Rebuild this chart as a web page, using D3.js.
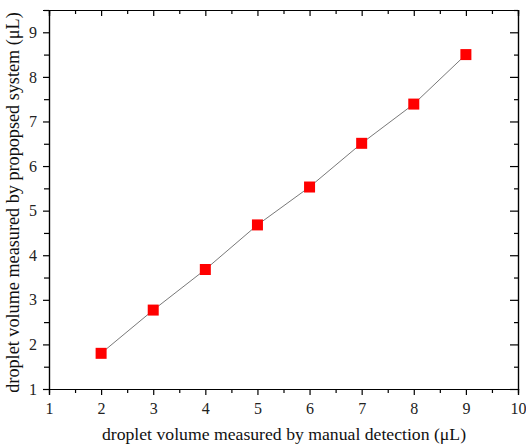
<!DOCTYPE html>
<html>
<head>
<meta charset="utf-8">
<script src="https://cdn.jsdelivr.net/npm/d3@7"></script>
<style>
  body { margin: 0; background: #fff; }
  svg text { font-family: "Liberation Serif", "Times New Roman", serif; }
</style>
</head>
<body>
<div id="chart"></div>
<script>
// data
var manual = [2, 3, 4, 5, 6, 7, 8, 9];
var proposed = [1.80, 2.77, 3.68, 4.68, 5.53, 6.51, 7.39, 8.50];
var xTicks = [1, 2, 3, 4, 5, 6, 7, 8, 9, 10];
var yTicks = [1, 2, 3, 4, 5, 6, 7, 8, 9];

var margin = {top: 10, right: 8, bottom: 57, left: 49},
    width = 526 - margin.left - margin.right,
    height = 446 - margin.top - margin.bottom;

var svg = d3.select("#chart")
  .append("svg")
    .attr("width", 526)
    .attr("height", 446)
  .append("g")
    .attr("transform", "translate(" + margin.left + "," + margin.top + ")");

var x = d3.scaleLinear().domain([1, 10]).range([0, width]);
var y = d3.scaleLinear().domain([1, 9.5]).range([height, 0]);

var minorX = d3.range(1.5, 10, 1);
var minorY = d3.range(1.5, 9.6, 1);

function styleAxis(g) {
  g.attr("font-family", null);
  g.select(".domain").attr("stroke", "#000").attr("stroke-width", 1.2);
  g.selectAll(".tick line").attr("stroke", "#000").attr("stroke-width", 1.2);
  g.selectAll(".tick text")
    .style("font-family", "'Liberation Serif', 'Times New Roman', serif")
    .style("font-size", "16px")
    .attr("fill", "#222");
}

// bottom axis, ticks outward
svg.append("g")
  .attr("transform", "translate(0," + height + ")")
  .call(d3.axisBottom(x).tickValues(xTicks).tickSize(6).tickPadding(8).tickFormat(d3.format("d")))
  .call(styleAxis);
svg.append("g")
  .attr("transform", "translate(0," + height + ")")
  .call(d3.axisBottom(x).tickValues(minorX).tickSize(4).tickFormat(""))
  .call(styleAxis);

// left axis, ticks outward
svg.append("g")
  .call(d3.axisLeft(y).tickValues(yTicks).tickSize(6).tickPadding(6).tickFormat(d3.format("d")))
  .call(styleAxis);
svg.append("g")
  .call(d3.axisLeft(y).tickValues(minorY).tickSize(5).tickFormat(""))
  .call(styleAxis);

// top axis, ticks inward
svg.append("g")
  .call(d3.axisTop(x).tickValues(xTicks).tickSize(-6).tickFormat(""))
  .call(styleAxis);
svg.append("g")
  .call(d3.axisTop(x).tickValues(minorX).tickSize(-4).tickFormat(""))
  .call(styleAxis);

// right axis, ticks inward
svg.append("g")
  .attr("transform", "translate(" + width + ",0)")
  .call(d3.axisRight(y).tickValues(yTicks).tickSize(-8).tickFormat(""))
  .call(styleAxis);
svg.append("g")
  .attr("transform", "translate(" + width + ",0)")
  .call(d3.axisRight(y).tickValues(minorY).tickSize(-4).tickFormat(""))
  .call(styleAxis);

// connecting line
svg.append("path")
  .datum(manual)
  .attr("fill", "none")
  .attr("stroke", "#555")
  .attr("stroke-width", 0.8)
  .attr("d", d3.line()
    .x(function(d) { return x(d) })
    .y(function(d, i) { return y(proposed[i]) })
  );

// square markers
var s = 11;
svg.selectAll("rect.pt")
  .data(manual)
  .enter().append("rect")
    .attr("class", "pt")
    .attr("x", function(d) { return x(d) - s / 2 })
    .attr("y", function(d, i) { return y(proposed[i]) - s / 2 })
    .attr("width", s)
    .attr("height", s)
    .attr("fill", "#ff0000");

// axis titles
svg.append("text")
  .attr("x", width / 2 + 0.5)
  .attr("y", height + 51)
  .attr("text-anchor", "middle")
  .style("font-size", "17.7px")
  .attr("fill", "#111")
  .text("droplet volume measured by manual detection (\u03bcL)");

svg.append("text")
  .attr("transform", "translate(" + (-30) + "," + (height / 2 + 3) + ") rotate(-90)")
  .attr("text-anchor", "middle")
  .style("font-size", "18.2px")
  .attr("fill", "#111")
  .text("droplet volume measured by propopsed system (\u03bcL)");
</script>
</body>
</html>
